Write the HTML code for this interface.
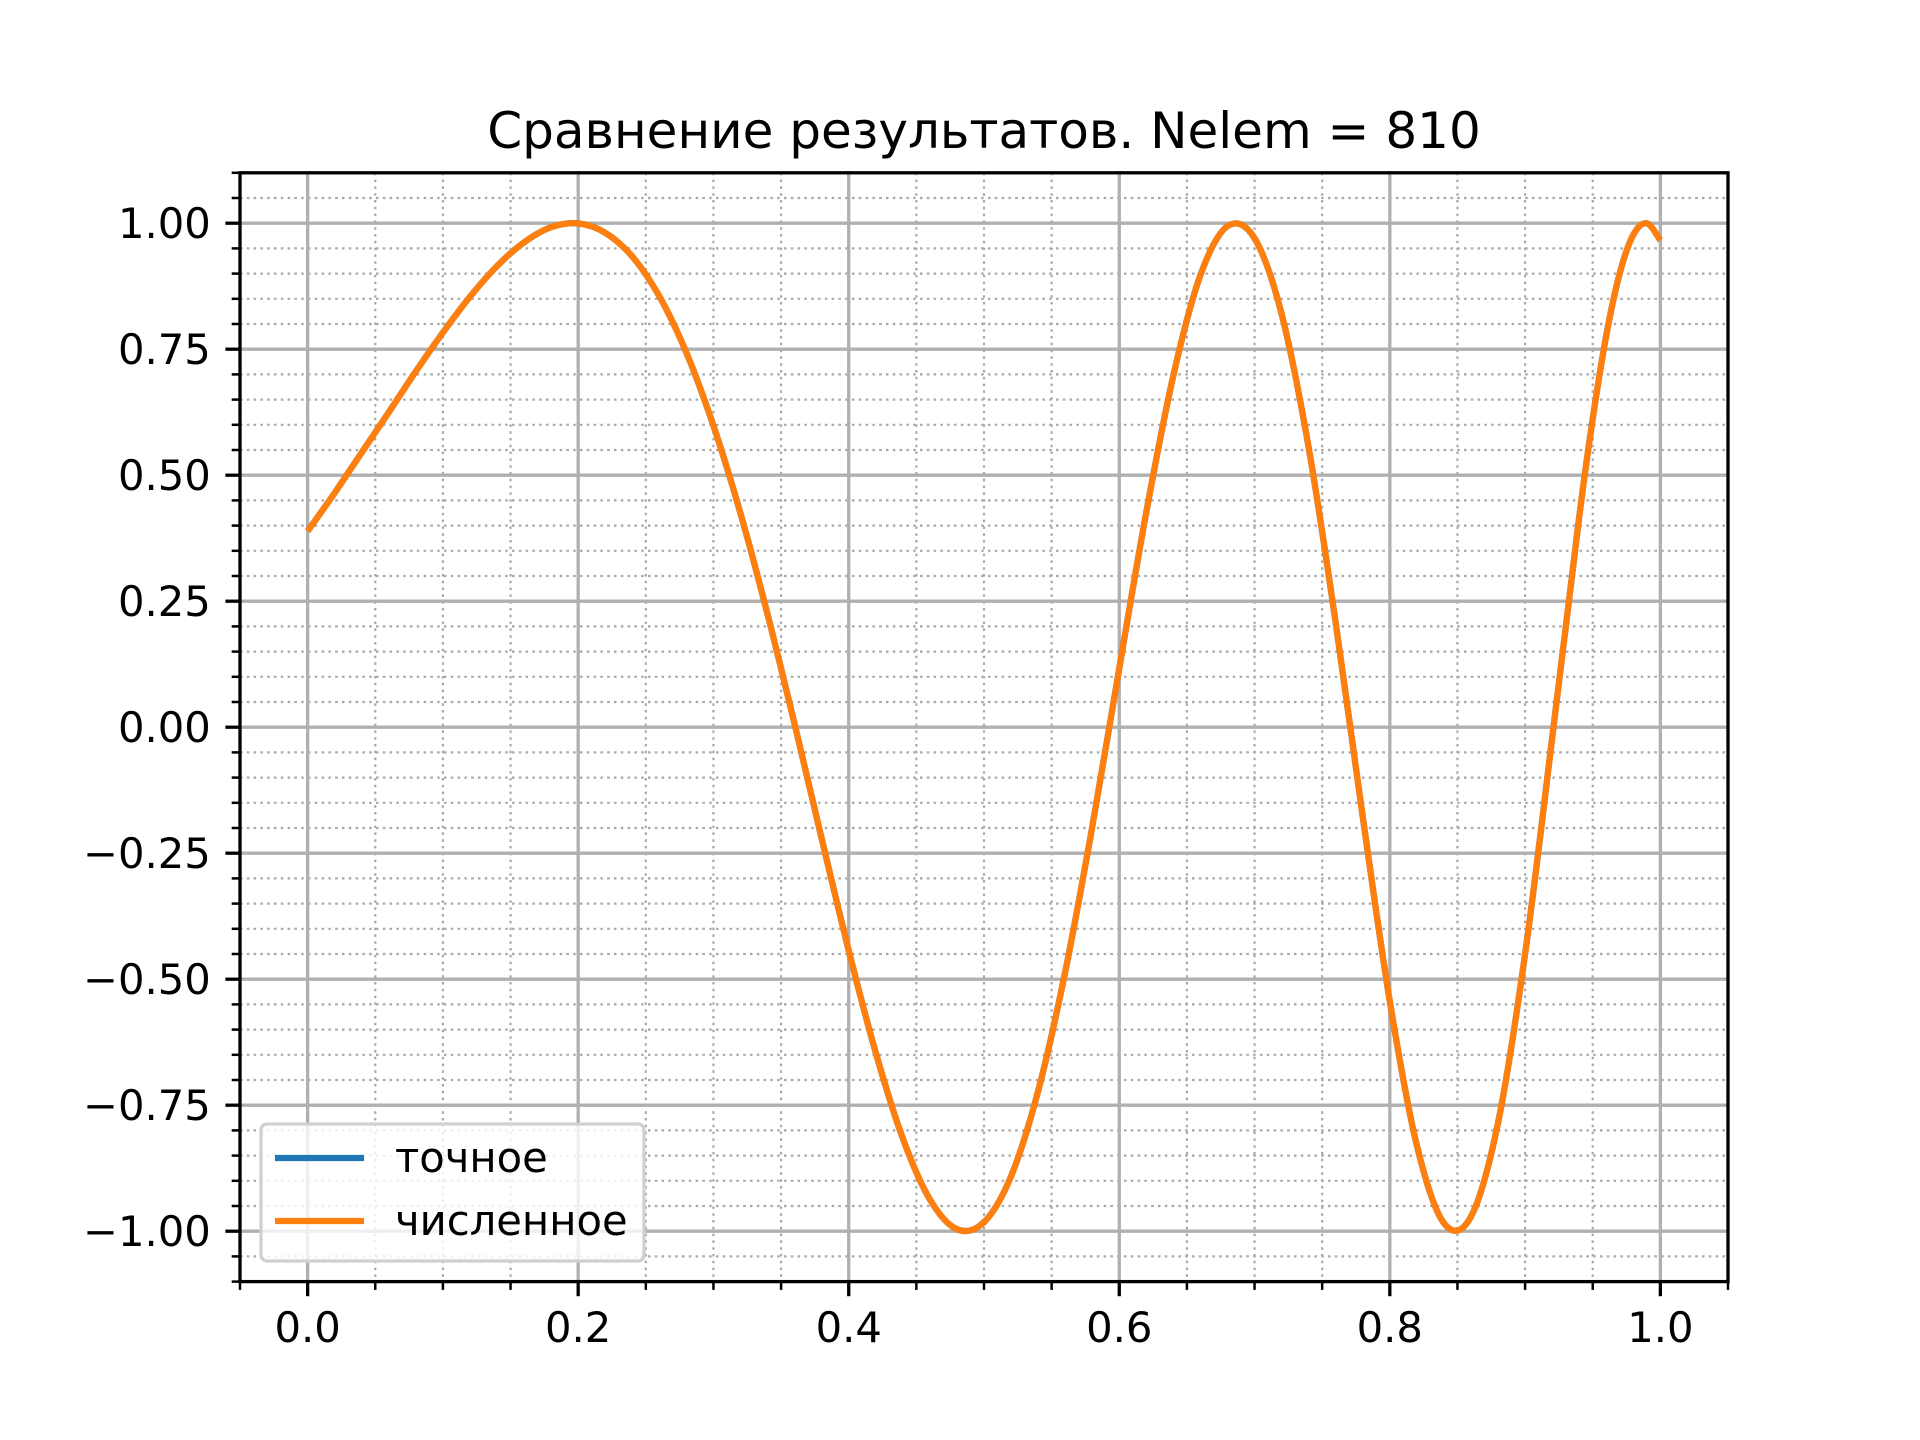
<!DOCTYPE html>
<html><head><meta charset="utf-8"><style>
html,body{margin:0;padding:0;background:#fff}
svg{display:block;font-family:"DejaVu Sans","Liberation Sans",sans-serif}
</style></head><body>
<svg id="chart" width="1920" height="1440" viewBox="0 0 1920 1440" xmlns="http://www.w3.org/2000/svg">
<rect width="1920" height="1440" fill="#fff"/>
<text x="984" y="148" font-size="50" text-anchor="middle" fill="#000">Сравнение результатов. Nelem = 810</text>
<g id="grid"></g>
<g id="series"></g>
<g id="axes"></g>
<g>
<rect x="261" y="1124" width="383" height="137" rx="6" fill="#fff" fill-opacity="0.8" stroke="#d0d0d0" stroke-width="3.3"/>
<line x1="275" y1="1158" x2="364" y2="1158" stroke="#1f77b4" stroke-width="6.25"/>
<text x="395" y="1172" font-size="41.7" fill="#000">точное</text>
<line x1="275" y1="1221" x2="364" y2="1221" stroke="#ff7f0e" stroke-width="6.25"/>
<text x="395" y="1235" font-size="41.7" fill="#000">численное</text>
</g>
</svg>
<script>
const xValues=[0,0.02,0.04,0.06,0.08,0.10,0.12,0.14,0.16,0.18,0.20,0.22,0.24,0.26,0.28,0.30,0.32,0.34,0.36,0.38,0.40,0.42,0.44,0.46,0.48,0.50,0.52,0.54,0.56,0.58,0.60,0.62,0.64,0.66,0.68,0.70,0.72,0.74,0.76,0.78,0.80,0.82,0.84,0.86,0.88,0.90,0.92,0.94,0.95,0.96,0.97,0.98,0.99,1.00];
const exactValues=[0.389,0.465,0.545,0.625,0.706,0.783,0.854,0.915,0.962,0.992,0.9996,0.981,0.934,0.855,0.743,0.598,0.424,0.224,0.006,-0.221,-0.443,-0.646,-0.816,-0.937,-0.996,-0.982,-0.891,-0.722,-0.486,-0.198,0.117,0.427,0.698,0.897,0.994,0.970,0.820,0.555,0.207,-0.178,-0.544,-0.830,-0.984,-0.971,-0.785,-0.450,-0.022,0.417,0.612,0.777,0.901,0.977,0.9997,0.966];
const numericValues=[0.389,0.465,0.545,0.625,0.706,0.783,0.854,0.915,0.962,0.992,0.9996,0.981,0.934,0.855,0.743,0.598,0.424,0.224,0.006,-0.221,-0.443,-0.646,-0.816,-0.937,-0.996,-0.982,-0.891,-0.722,-0.486,-0.198,0.117,0.427,0.698,0.897,0.994,0.970,0.820,0.555,0.207,-0.178,-0.544,-0.830,-0.984,-0.971,-0.785,-0.450,-0.022,0.417,0.612,0.777,0.901,0.977,0.9997,0.966];
const xTicks=[0,0.2,0.4,0.6,0.8,1.0];
const xTickLabels=["0.0","0.2","0.4","0.6","0.8","1.0"];
const yTicks=[1,0.75,0.5,0.25,0,-0.25,-0.5,-0.75,-1];
const yTickLabels=["1.00","0.75","0.50","0.25","0.00","\u22120.25","\u22120.50","\u22120.75","\u22121.00"];

const NS="http://www.w3.org/2000/svg";
const L=240,R=1728,T=172.8,B=1281.6;
const X0=-0.05,X1=1.05,Y0=-1.1,Y1=1.1;
const sx=v=>L+(v-X0)/(X1-X0)*(R-L);
const sy=v=>B-(v-Y0)/(Y1-Y0)*(B-T);
function mk(tag,attrs,parent){const e=document.createElementNS(NS,tag);for(const k in attrs)e.setAttribute(k,attrs[k]);parent.appendChild(e);return e;}
const grid=document.getElementById('grid'),axes=document.getElementById('axes'),series=document.getElementById('series');

for(let i=-1;i<=21;i++){const v=Math.round(i*5)/100;if(v<X0||v>X1)continue;
 const e=mk('line',{x1:sx(v),x2:sx(v),y1:T,y2:B,stroke:'#a8a8a8','stroke-width':2.2,'stroke-dasharray':'2.5,4.3'},grid);
 
 
 const t=mk('line',{x1:sx(v),x2:sx(v),y1:B,y2:B+8.3,stroke:'#000','stroke-width':2.5},axes);
 
 }
for(let i=-22;i<=22;i++){const v=i*0.05;if(v<Y0-1e-9||v>Y1+1e-9)continue;
 const e=mk('line',{x1:L,x2:R,y1:sy(v),y2:sy(v),stroke:'#a8a8a8','stroke-width':2.2,'stroke-dasharray':'2.5,4.3'},grid);
 
 
 const t=mk('line',{x1:L-8.3,x2:L,y1:sy(v),y2:sy(v),stroke:'#000','stroke-width':2.5},axes);
 
 }
xTicks.forEach((v,i)=>{
 const g=mk('line',{x1:sx(v),x2:sx(v),y1:T,y2:B,stroke:'#b0b0b0','stroke-width':3.3},grid);
 
 
 const t=mk('line',{x1:sx(v),x2:sx(v),y1:B,y2:B+14.6,stroke:'#000','stroke-width':3.3},axes);
 
 
 const l=mk('text',{x:sx(v),y:B+14.6+14.6+31,'font-size':41.7,'text-anchor':'middle',fill:'#000'},axes);
 l.textContent=xTickLabels[i];
 
 });
yTicks.forEach((v,i)=>{
 const g=mk('line',{x1:L,x2:R,y1:sy(v),y2:sy(v),stroke:'#b0b0b0','stroke-width':3.3},grid);
 
 
 const t=mk('line',{x1:L-14.6,x2:L,y1:sy(v),y2:sy(v),stroke:'#000','stroke-width':3.3},axes);
 
 
 const l=mk('text',{x:L-14.6-14.6,y:sy(v)+15,'font-size':41.7,'text-anchor':'end',fill:'#000'},axes);
 l.textContent=yTickLabels[i];
 
 });
const frame=mk('rect',{x:L,y:T,width:R-L,height:B-T,fill:'none',stroke:'#000','stroke-width':3.3},axes);



function pathFor(xs,ys){
 const P=xs.map((x,i)=>[sx(x),sy(ys[i])]);
 let d='M'+P[0][0]+','+P[0][1];
 for(let i=0;i<P.length-1;i++){
  const p0=P[Math.max(i-1,0)],p1=P[i],p2=P[i+1],p3=P[Math.min(i+2,P.length-1)];
  const c1=[p1[0]+(p2[0]-p0[0])/6,p1[1]+(p2[1]-p0[1])/6];
  const c2=[p2[0]-(p3[0]-p1[0])/6,p2[1]-(p3[1]-p1[1])/6];
  d+=' C'+c1+' '+c2+' '+p2;
 }
 return d;
}
const s1=mk('path',{d:pathFor(xValues,exactValues),fill:'none',stroke:'#1f77b4','stroke-width':6.25,'stroke-linejoin':'round'},series);


const s2=mk('path',{d:pathFor(xValues,numericValues),fill:'none',stroke:'#ff7f0e','stroke-width':6.25,'stroke-linejoin':'round'},series);


</script>
</body></html>
